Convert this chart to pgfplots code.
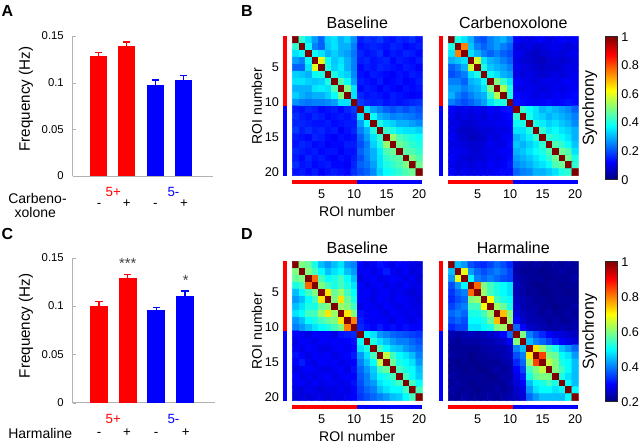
\documentclass[border=0pt]{standalone}
\usepackage{fontspec}
\setmainfont{Liberation Sans}
\usepackage{pgfplots}
\pgfplotsset{compat=1.18}
\usepackage{pgfplotstable}
\pgfplotsset{/pgf/number format/assume math mode=true}
\newcommand\fa{\fontsize{8.5}{10}\selectfont}
\newcommand\fb{\fontsize{10.5}{12}\selectfont}
\newcommand\fc{\fontsize{12}{14}\selectfont}
\newcommand\fd{\fontsize{9.5}{11}\selectfont}
\newcommand\fe{\fontsize{10}{12}\selectfont}
\newcommand\ff{\fontsize{11.4}{13}\selectfont}

% Baseline (panel B)
\pgfplotstableread[header=false,row sep=\\]{
1\\0.42\\0.35\\0.28\\0.22\\0.33\\0.35\\0.30\\0.33\\0.27\\0.15\\0.17\\0.16\\0.18\\0.15\\0.14\\0.16\\0.15\\0.17\\0.14\\
0.42\\1\\0.38\\0.25\\0.22\\0.32\\0.35\\0.30\\0.30\\0.25\\0.14\\0.15\\0.16\\0.15\\0.14\\0.16\\0.15\\0.13\\0.14\\0.15\\
0.35\\0.38\\1\\0.38\\0.35\\0.30\\0.33\\0.30\\0.28\\0.24\\0.16\\0.14\\0.15\\0.17\\0.13\\0.15\\0.14\\0.16\\0.15\\0.13\\
0.28\\0.25\\0.38\\1\\0.60\\0.38\\0.32\\0.35\\0.30\\0.25\\0.15\\0.16\\0.14\\0.15\\0.16\\0.13\\0.15\\0.14\\0.13\\0.15\\
0.22\\0.22\\0.35\\0.60\\1\\0.40\\0.33\\0.36\\0.30\\0.25\\0.13\\0.15\\0.14\\0.16\\0.15\\0.14\\0.13\\0.15\\0.14\\0.12\\
0.33\\0.32\\0.30\\0.38\\0.40\\1\\0.40\\0.35\\0.33\\0.26\\0.14\\0.13\\0.15\\0.14\\0.13\\0.12\\0.14\\0.13\\0.15\\0.14\\
0.35\\0.35\\0.33\\0.32\\0.33\\0.40\\1\\0.45\\0.38\\0.28\\0.15\\0.14\\0.13\\0.15\\0.12\\0.13\\0.14\\0.12\\0.13\\0.15\\
0.30\\0.30\\0.30\\0.35\\0.36\\0.35\\0.45\\1\\0.50\\0.35\\0.13\\0.15\\0.14\\0.12\\0.14\\0.13\\0.12\\0.14\\0.13\\0.14\\
0.33\\0.30\\0.28\\0.30\\0.30\\0.33\\0.38\\0.50\\1\\0.35\\0.16\\0.14\\0.15\\0.14\\0.13\\0.15\\0.14\\0.13\\0.12\\0.13\\
0.27\\0.25\\0.24\\0.25\\0.25\\0.26\\0.28\\0.35\\0.35\\1\\0.18\\0.16\\0.15\\0.16\\0.14\\0.15\\0.14\\0.15\\0.16\\0.17\\
0.15\\0.14\\0.16\\0.15\\0.13\\0.14\\0.15\\0.13\\0.16\\0.18\\1\\0.35\\0.28\\0.25\\0.22\\0.20\\0.22\\0.20\\0.22\\0.20\\
0.17\\0.15\\0.14\\0.16\\0.15\\0.13\\0.14\\0.15\\0.14\\0.16\\0.35\\1\\0.38\\0.30\\0.28\\0.25\\0.26\\0.25\\0.24\\0.22\\
0.16\\0.16\\0.15\\0.14\\0.14\\0.15\\0.13\\0.14\\0.15\\0.15\\0.28\\0.38\\1\\0.40\\0.35\\0.33\\0.30\\0.30\\0.28\\0.26\\
0.18\\0.15\\0.17\\0.15\\0.16\\0.14\\0.15\\0.12\\0.14\\0.16\\0.25\\0.30\\0.40\\1\\0.42\\0.40\\0.36\\0.35\\0.35\\0.33\\
0.15\\0.14\\0.13\\0.16\\0.15\\0.13\\0.12\\0.14\\0.13\\0.14\\0.22\\0.28\\0.35\\0.42\\1\\0.52\\0.45\\0.42\\0.40\\0.38\\
0.14\\0.16\\0.15\\0.13\\0.14\\0.12\\0.13\\0.13\\0.15\\0.15\\0.20\\0.25\\0.33\\0.40\\0.52\\1\\0.48\\0.45\\0.42\\0.40\\
0.16\\0.15\\0.14\\0.15\\0.13\\0.14\\0.14\\0.12\\0.14\\0.14\\0.22\\0.26\\0.30\\0.36\\0.45\\0.48\\1\\0.46\\0.45\\0.42\\
0.15\\0.13\\0.16\\0.14\\0.15\\0.13\\0.12\\0.14\\0.13\\0.15\\0.20\\0.25\\0.30\\0.35\\0.42\\0.45\\0.46\\1\\0.50\\0.45\\
0.17\\0.14\\0.15\\0.13\\0.14\\0.15\\0.13\\0.13\\0.12\\0.16\\0.22\\0.24\\0.28\\0.35\\0.40\\0.42\\0.45\\0.50\\1\\0.48\\
0.14\\0.15\\0.13\\0.15\\0.12\\0.14\\0.15\\0.14\\0.13\\0.17\\0.20\\0.22\\0.26\\0.33\\0.38\\0.40\\0.42\\0.45\\0.48\\1\\
}\matBL

% Carbenoxolone (panel B)
\pgfplotstableread[header=false,row sep=\\]{
1\\0.40\\0.35\\0.30\\0.22\\0.20\\0.25\\0.28\\0.30\\0.25\\0.12\\0.11\\0.10\\0.11\\0.12\\0.10\\0.11\\0.12\\0.11\\0.12\\
0.40\\1\\0.75\\0.32\\0.25\\0.22\\0.25\\0.28\\0.25\\0.22\\0.10\\0.09\\0.10\\0.08\\0.09\\0.10\\0.11\\0.10\\0.09\\0.10\\
0.35\\0.75\\1\\0.35\\0.30\\0.25\\0.22\\0.25\\0.22\\0.20\\0.11\\0.10\\0.08\\0.07\\0.08\\0.09\\0.10\\0.09\\0.10\\0.11\\
0.30\\0.32\\0.35\\1\\0.58\\0.35\\0.30\\0.28\\0.25\\0.22\\0.10\\0.09\\0.08\\0.07\\0.06\\0.08\\0.09\\0.08\\0.09\\0.10\\
0.22\\0.25\\0.30\\0.58\\1\\0.40\\0.32\\0.30\\0.28\\0.25\\0.11\\0.10\\0.09\\0.08\\0.07\\0.08\\0.08\\0.09\\0.10\\0.10\\
0.20\\0.22\\0.25\\0.35\\0.40\\1\\0.38\\0.35\\0.30\\0.28\\0.10\\0.09\\0.10\\0.09\\0.08\\0.09\\0.10\\0.09\\0.10\\0.11\\
0.25\\0.25\\0.22\\0.30\\0.32\\0.38\\1\\0.50\\0.42\\0.35\\0.12\\0.11\\0.10\\0.09\\0.10\\0.11\\0.10\\0.11\\0.12\\0.11\\
0.28\\0.28\\0.25\\0.28\\0.30\\0.35\\0.50\\1\\0.55\\0.40\\0.11\\0.10\\0.11\\0.10\\0.09\\0.10\\0.11\\0.10\\0.11\\0.12\\
0.30\\0.25\\0.22\\0.25\\0.28\\0.30\\0.42\\0.55\\1\\0.40\\0.13\\0.12\\0.11\\0.10\\0.11\\0.10\\0.12\\0.11\\0.12\\0.13\\
0.25\\0.22\\0.20\\0.22\\0.25\\0.28\\0.35\\0.40\\0.40\\1\\0.14\\0.13\\0.12\\0.11\\0.12\\0.13\\0.12\\0.13\\0.14\\0.13\\
0.12\\0.10\\0.11\\0.10\\0.11\\0.10\\0.12\\0.11\\0.13\\0.14\\1\\0.42\\0.38\\0.35\\0.30\\0.32\\0.30\\0.28\\0.26\\0.22\\
0.11\\0.09\\0.10\\0.09\\0.10\\0.09\\0.11\\0.10\\0.12\\0.13\\0.42\\1\\0.40\\0.35\\0.33\\0.30\\0.32\\0.30\\0.28\\0.25\\
0.10\\0.10\\0.08\\0.08\\0.09\\0.10\\0.10\\0.11\\0.11\\0.12\\0.38\\0.40\\1\\0.40\\0.36\\0.33\\0.35\\0.32\\0.30\\0.26\\
0.11\\0.08\\0.07\\0.07\\0.08\\0.09\\0.09\\0.10\\0.10\\0.11\\0.35\\0.35\\0.40\\1\\0.42\\0.36\\0.38\\0.35\\0.33\\0.30\\
0.12\\0.09\\0.08\\0.06\\0.07\\0.08\\0.10\\0.09\\0.11\\0.12\\0.30\\0.33\\0.36\\0.42\\1\\0.42\\0.40\\0.38\\0.35\\0.30\\
0.10\\0.10\\0.09\\0.08\\0.08\\0.09\\0.11\\0.10\\0.10\\0.13\\0.32\\0.30\\0.33\\0.36\\0.42\\1\\0.45\\0.42\\0.38\\0.32\\
0.11\\0.11\\0.10\\0.09\\0.08\\0.10\\0.10\\0.11\\0.12\\0.12\\0.30\\0.32\\0.35\\0.38\\0.40\\0.45\\1\\0.48\\0.45\\0.35\\
0.12\\0.10\\0.09\\0.08\\0.09\\0.09\\0.11\\0.10\\0.11\\0.13\\0.28\\0.30\\0.32\\0.35\\0.38\\0.42\\0.48\\1\\0.48\\0.40\\
0.11\\0.09\\0.10\\0.09\\0.10\\0.10\\0.12\\0.11\\0.12\\0.14\\0.26\\0.28\\0.30\\0.33\\0.35\\0.38\\0.45\\0.48\\1\\0.42\\
0.12\\0.10\\0.11\\0.10\\0.10\\0.11\\0.11\\0.12\\0.13\\0.13\\0.22\\0.25\\0.26\\0.30\\0.30\\0.32\\0.35\\0.40\\0.42\\1\\
}\matBR

% Baseline (panel D)
\pgfplotstableread[header=false,row sep=\\]{
1\\0.60\\0.58\\0.52\\0.45\\0.42\\0.45\\0.48\\0.42\\0.40\\0.30\\0.28\\0.29\\0.31\\0.30\\0.28\\0.30\\0.29\\0.28\\0.27\\
0.60\\1\\0.60\\0.55\\0.50\\0.45\\0.48\\0.50\\0.45\\0.42\\0.29\\0.30\\0.28\\0.30\\0.32\\0.29\\0.28\\0.30\\0.27\\0.28\\
0.58\\0.60\\1\\0.82\\0.55\\0.50\\0.52\\0.55\\0.50\\0.45\\0.28\\0.29\\0.30\\0.28\\0.29\\0.30\\0.29\\0.28\\0.29\\0.27\\
0.52\\0.55\\0.82\\1\\0.60\\0.55\\0.52\\0.55\\0.52\\0.48\\0.30\\0.28\\0.29\\0.30\\0.28\\0.29\\0.28\\0.30\\0.28\\0.28\\
0.45\\0.50\\0.55\\0.60\\1\\0.72\\0.58\\0.62\\0.55\\0.50\\0.29\\0.30\\0.28\\0.29\\0.30\\0.28\\0.29\\0.28\\0.27\\0.28\\
0.42\\0.45\\0.50\\0.55\\0.72\\1\\0.60\\0.72\\0.58\\0.52\\0.30\\0.29\\0.28\\0.30\\0.29\\0.28\\0.30\\0.29\\0.28\\0.27\\
0.45\\0.48\\0.52\\0.52\\0.58\\0.60\\1\\0.62\\0.60\\0.55\\0.28\\0.30\\0.29\\0.28\\0.30\\0.29\\0.28\\0.29\\0.28\\0.28\\
0.48\\0.50\\0.55\\0.55\\0.62\\0.72\\0.62\\1\\0.72\\0.60\\0.31\\0.29\\0.30\\0.29\\0.28\\0.30\\0.29\\0.28\\0.29\\0.28\\
0.42\\0.45\\0.50\\0.52\\0.55\\0.58\\0.60\\0.72\\1\\0.80\\0.32\\0.30\\0.29\\0.30\\0.29\\0.28\\0.30\\0.29\\0.28\\0.29\\
0.40\\0.42\\0.45\\0.48\\0.50\\0.52\\0.55\\0.60\\0.80\\1\\0.33\\0.31\\0.30\\0.32\\0.30\\0.31\\0.30\\0.31\\0.30\\0.30\\
0.30\\0.29\\0.28\\0.30\\0.29\\0.30\\0.28\\0.31\\0.32\\0.33\\1\\0.50\\0.48\\0.42\\0.40\\0.38\\0.37\\0.36\\0.35\\0.34\\
0.28\\0.30\\0.29\\0.28\\0.30\\0.29\\0.30\\0.29\\0.30\\0.31\\0.50\\1\\0.52\\0.48\\0.45\\0.42\\0.40\\0.40\\0.38\\0.36\\
0.29\\0.28\\0.30\\0.29\\0.28\\0.28\\0.29\\0.30\\0.29\\0.30\\0.48\\0.52\\1\\0.55\\0.50\\0.46\\0.45\\0.42\\0.40\\0.38\\
0.31\\0.30\\0.28\\0.30\\0.29\\0.30\\0.28\\0.29\\0.30\\0.32\\0.42\\0.48\\0.55\\1\\0.65\\0.55\\0.50\\0.48\\0.45\\0.40\\
0.30\\0.32\\0.29\\0.28\\0.30\\0.29\\0.30\\0.28\\0.29\\0.30\\0.40\\0.45\\0.50\\0.65\\1\\0.58\\0.52\\0.50\\0.48\\0.42\\
0.28\\0.29\\0.30\\0.29\\0.28\\0.28\\0.29\\0.30\\0.28\\0.31\\0.38\\0.42\\0.46\\0.55\\0.58\\1\\0.55\\0.52\\0.50\\0.45\\
0.30\\0.28\\0.29\\0.28\\0.29\\0.30\\0.28\\0.29\\0.30\\0.30\\0.37\\0.40\\0.45\\0.50\\0.52\\0.55\\1\\0.55\\0.50\\0.46\\
0.29\\0.30\\0.28\\0.30\\0.28\\0.29\\0.29\\0.28\\0.29\\0.31\\0.36\\0.40\\0.42\\0.48\\0.50\\0.52\\0.55\\1\\0.55\\0.50\\
0.28\\0.27\\0.29\\0.28\\0.27\\0.28\\0.28\\0.29\\0.28\\0.30\\0.35\\0.38\\0.40\\0.45\\0.48\\0.50\\0.50\\0.55\\1\\0.55\\
0.27\\0.28\\0.27\\0.28\\0.28\\0.27\\0.28\\0.28\\0.29\\0.30\\0.34\\0.36\\0.38\\0.40\\0.42\\0.45\\0.46\\0.50\\0.55\\1\\
}\matDL

% Harmaline (panel D)
\pgfplotstableread[header=false,row sep=\\]{
1\\0.45\\0.42\\0.36\\0.34\\0.33\\0.35\\0.38\\0.36\\0.33\\0.24\\0.23\\0.22\\0.23\\0.22\\0.22\\0.23\\0.22\\0.23\\0.22\\
0.45\\1\\0.68\\0.42\\0.38\\0.36\\0.38\\0.40\\0.38\\0.35\\0.23\\0.22\\0.22\\0.22\\0.21\\0.22\\0.22\\0.23\\0.22\\0.22\\
0.42\\0.68\\1\\0.50\\0.40\\0.38\\0.40\\0.38\\0.36\\0.35\\0.24\\0.23\\0.22\\0.22\\0.22\\0.21\\0.22\\0.22\\0.22\\0.23\\
0.36\\0.42\\0.50\\1\\0.82\\0.60\\0.55\\0.52\\0.50\\0.48\\0.25\\0.23\\0.22\\0.21\\0.21\\0.22\\0.22\\0.21\\0.22\\0.22\\
0.34\\0.38\\0.40\\0.82\\1\\0.62\\0.55\\0.52\\0.50\\0.48\\0.24\\0.23\\0.22\\0.22\\0.21\\0.21\\0.22\\0.22\\0.21\\0.22\\
0.33\\0.36\\0.38\\0.60\\0.62\\1\\0.70\\0.55\\0.52\\0.50\\0.25\\0.24\\0.23\\0.22\\0.22\\0.21\\0.22\\0.22\\0.22\\0.22\\
0.35\\0.38\\0.40\\0.55\\0.55\\0.70\\1\\0.62\\0.58\\0.52\\0.26\\0.24\\0.23\\0.23\\0.22\\0.22\\0.21\\0.22\\0.22\\0.23\\
0.38\\0.40\\0.38\\0.52\\0.52\\0.55\\0.62\\1\\0.75\\0.60\\0.27\\0.25\\0.24\\0.23\\0.22\\0.23\\0.22\\0.22\\0.23\\0.22\\
0.36\\0.38\\0.36\\0.50\\0.50\\0.52\\0.58\\0.75\\1\\0.62\\0.30\\0.26\\0.24\\0.24\\0.23\\0.22\\0.23\\0.22\\0.22\\0.23\\
0.33\\0.35\\0.35\\0.48\\0.48\\0.50\\0.52\\0.60\\0.62\\1\\0.38\\0.30\\0.26\\0.25\\0.24\\0.23\\0.23\\0.24\\0.23\\0.24\\
0.24\\0.23\\0.24\\0.25\\0.24\\0.25\\0.26\\0.27\\0.30\\0.38\\1\\0.60\\0.40\\0.36\\0.33\\0.30\\0.28\\0.27\\0.26\\0.25\\
0.23\\0.22\\0.23\\0.23\\0.23\\0.24\\0.24\\0.25\\0.26\\0.30\\0.60\\1\\0.45\\0.40\\0.38\\0.35\\0.32\\0.30\\0.28\\0.27\\
0.22\\0.22\\0.22\\0.22\\0.22\\0.23\\0.23\\0.24\\0.24\\0.26\\0.40\\0.45\\1\\0.72\\0.62\\0.55\\0.52\\0.45\\0.42\\0.38\\
0.23\\0.22\\0.22\\0.21\\0.22\\0.22\\0.23\\0.23\\0.24\\0.25\\0.36\\0.40\\0.72\\1\\0.85\\0.60\\0.58\\0.50\\0.48\\0.42\\
0.22\\0.21\\0.22\\0.21\\0.21\\0.22\\0.22\\0.22\\0.23\\0.24\\0.33\\0.38\\0.62\\0.85\\1\\0.65\\0.60\\0.52\\0.50\\0.45\\
0.22\\0.22\\0.21\\0.22\\0.21\\0.21\\0.22\\0.23\\0.22\\0.23\\0.30\\0.35\\0.55\\0.60\\0.65\\1\\0.60\\0.55\\0.50\\0.45\\
0.23\\0.22\\0.22\\0.22\\0.22\\0.22\\0.21\\0.22\\0.23\\0.23\\0.28\\0.32\\0.52\\0.58\\0.60\\0.60\\1\\0.52\\0.48\\0.45\\
0.22\\0.23\\0.22\\0.21\\0.22\\0.22\\0.22\\0.22\\0.22\\0.24\\0.27\\0.30\\0.45\\0.50\\0.52\\0.55\\0.52\\1\\0.50\\0.45\\
0.23\\0.22\\0.22\\0.22\\0.21\\0.22\\0.22\\0.23\\0.22\\0.23\\0.26\\0.28\\0.42\\0.48\\0.50\\0.50\\0.48\\0.50\\1\\0.50\\
0.22\\0.22\\0.23\\0.22\\0.22\\0.22\\0.23\\0.22\\0.23\\0.24\\0.25\\0.27\\0.38\\0.42\\0.45\\0.45\\0.45\\0.45\\0.50\\1\\
}\matDR

\pgfplotsset{
  barax/.style={
    scale only axis, axis x line*=bottom, axis y line*=left,
    axis line style={draw=gray!60},
    xmin=0.08, xmax=5.05, ymin=0, ymax=0.15,
    xtick=\empty, ytick={0,0.05,0.1,0.15}, yticklabels={0,0.05,0.1,0.15},
    tick align=inside, major tick length=2.5pt, tick style={gray!60},
    yticklabel style={font=\fa, anchor=east, inner sep=0pt, xshift=-6.5pt},
    ylabel={Frequency (Hz)}, clip=false,
  },
  errbar/.style={ybar, bar shift=0pt, bar width=#1, draw=none},
  matax/.style={
    scale only axis, width=97.5pt, height=104.55pt,
    xmin=0.5, xmax=20.5, ymin=0.5, ymax=20.5, enlargelimits=false,
    axis line style={draw=none}, colormap/jet,
    xtick={5,10,15,20}, xticklabels={5,10,15,20},
    major tick length=0pt, clip=false,
    xticklabel style={font=\fd, anchor=base, inner sep=0pt, yshift=-17.2pt},
    yticklabel style={font=\fd, anchor=east, inner sep=0pt, xshift=-9.75pt},
    every axis title/.style={at={(axis description cs:0.5,1)}, anchor=base, yshift=6pt, font=\fc},
    every axis x label/.style={at={(axis description cs:0.5,-0.294)}, anchor=base, font=\fb},
    every axis y label/.style={at={(axis description cs:-0.235,0.5)}, rotate=90, anchor=base, font=\fb},
  },
  cbar/.style 2 args={
    colorbar,
    colorbar style={
      at={(parent axis.north east)}, anchor=north west, xshift=11.85pt, yshift=-0.3pt,
      scale only axis, width=8.5pt, height=#2,
      ytick={#1}, yticklabels={#1}, major tick length=0pt,
      axis line style={draw=black!85, line width=0.4pt},
      yticklabel style={font=\fd, anchor=west, inner sep=0pt, xshift=3.2pt},
      ylabel={Synchrony},
      every axis y label/.style={at={(axis description cs:-0.7,0.5)}, rotate=90, anchor=south, inner sep=0pt, font=\fc},
    },
  },
}

\newcommand\sidebars{%
  \addplot[red, line width=3pt, mark=none, forget plot] coordinates {(-0.6,20.5) (-0.6,10.5)};
  \addplot[blue, line width=3pt, mark=none, forget plot] coordinates {(-0.6,10.5) (-0.6,0.5)};
  \addplot[red, line width=3pt, mark=none, forget plot] coordinates {(0.5,-0.35) (10.5,-0.35)};
  \addplot[blue, line width=3pt, mark=none, forget plot] coordinates {(10.5,-0.35) (20.5,-0.35)};
}

\begin{document}
\begin{tikzpicture}[x=0.75pt,y=0.75pt]
\useasboundingbox (0,0) rectangle (640,446);

% ---------- Panel A ----------
\begin{axis}[barax, at={(54.525pt,202.5pt)}, anchor=south west, width=105.2pt, height=105pt,
  every axis y label/.style={at={(axis description cs:-0.334,0.55)}, rotate=90, anchor=center, font=\ff}]
\addplot[errbar=0.6, fill=red, error bars/.cd, y dir=plus, y explicit,
  error bar style={red, line width=0.9pt}, error mark options={rotate=90, red, mark size=2.7pt, line width=0.9pt}]
  coordinates {(1,0.1286) +- (0,0.0039)};
\addplot[errbar=0.6, fill=red, error bars/.cd, y dir=plus, y explicit,
  error bar style={red, line width=0.9pt}, error mark options={rotate=90, red, mark size=2.7pt, line width=0.9pt}]
  coordinates {(2,0.1393) +- (0,0.0043)};
\addplot[errbar=0.6, fill=blue, error bars/.cd, y dir=plus, y explicit,
  error bar style={blue, line width=0.9pt}, error mark options={rotate=90, blue, mark size=2.7pt, line width=0.9pt}]
  coordinates {(3,0.0979) +- (0,0.0050)};
\addplot[errbar=0.6, fill=blue, error bars/.cd, y dir=plus, y explicit,
  error bar style={blue, line width=0.9pt}, error mark options={rotate=90, blue, mark size=2.7pt, line width=0.9pt}]
  coordinates {(4,0.1029) +- (0,0.0046)};
\end{axis}
\node[anchor=base, red, font=\fe] at (113.3,249.3) {5+};
\node[anchor=base, blue, font=\fe] at (173.5,249.3) {5-};
\node[anchor=base, font=\fb] at (37.5,242.7) {Carbeno-};
\node[anchor=base, font=\fb] at (35.3,228.7) {xolone};
\node[anchor=base, font=\fe] at (99,238) {-};
\node[anchor=base, font=\fe] at (126.7,238) {+};
\node[anchor=base, font=\fe] at (155.3,238) {-};
\node[anchor=base, font=\fe] at (184,238) {+};

% ---------- Panel C ----------
\begin{axis}[barax, at={(54.525pt,32.475pt)}, anchor=south west, width=106.7pt, height=108.75pt,
  every axis y label/.style={at={(axis description cs:-0.328,0.53)}, rotate=90, anchor=center, font=\ff}]
\addplot[errbar=0.62, fill=red, error bars/.cd, y dir=plus, y explicit,
  error bar style={red, line width=0.9pt}, error mark options={rotate=90, red, mark size=2.7pt, line width=0.9pt}]
  coordinates {(1,0.1000) +- (0,0.0045)};
\addplot[errbar=0.62, fill=red, error bars/.cd, y dir=plus, y explicit,
  error bar style={red, line width=0.9pt}, error mark options={rotate=90, red, mark size=2.7pt, line width=0.9pt}]
  coordinates {(2,0.1286) +- (0,0.0041)};
\addplot[errbar=0.62, fill=blue, error bars/.cd, y dir=plus, y explicit,
  error bar style={blue, line width=0.9pt}, error mark options={rotate=90, blue, mark size=2.7pt, line width=0.9pt}]
  coordinates {(3,0.0959) +- (0,0.0028)};
\addplot[errbar=0.62, fill=blue, error bars/.cd, y dir=plus, y explicit,
  error bar style={blue, line width=0.9pt}, error mark options={rotate=90, blue, mark size=2.7pt, line width=0.9pt}]
  coordinates {(4,0.1103) +- (0,0.0052)};
\end{axis}
\node[anchor=base, red, font=\fe] at (113.3,22.7) {5+};
\node[anchor=base, blue, font=\fe] at (173.5,22.7) {5-};
\node[anchor=base, font=\fb] at (40.2,7.7) {Harmaline};
\node[anchor=base, font=\fe] at (99,9.4) {-};
\node[anchor=base, font=\fe] at (127,9.4) {+};
\node[anchor=base, font=\fe] at (156,9.4) {-};
\node[anchor=base, font=\fe] at (185.7,9.4) {+};
\node[anchor=base, font=\fontsize{11}{13}\selectfont, text=black!75] at (127.7,177.3) {***};
\node[anchor=base, font=\fontsize{11}{13}\selectfont, text=black!75] at (185.7,160) {*};

% ---------- Panel B ----------
\begin{axis}[matax, at={(219.225pt,202.725pt)}, anchor=south west,
  point meta min=0, point meta max=1,
  ytick={1,6,11,16}, yticklabels={20,15,10,5},
  title={Baseline}, xlabel={ROI number}, ylabel={ROI number}]
\addplot[matrix plot*, mesh/cols=20, point meta=explicit]
  table[x index=0, y index=0, meta index=0,
        x expr={\coordindex-20*floor((\coordindex+0.5)/20)+1},
        y expr={20-floor((\coordindex+0.5)/20)}] {\matBL};
\sidebars
\end{axis}
\begin{axis}[matax, at={(336.225pt,202.725pt)}, anchor=south west,
  point meta min=0, point meta max=1, ytick=\empty,
  title={Carbenoxolone}, cbar={0,0.2,0.4,0.6,0.8,1}{107.25pt}]
\addplot[matrix plot*, mesh/cols=20, point meta=explicit]
  table[x index=0, y index=0, meta index=0,
        x expr={\coordindex-20*floor((\coordindex+0.5)/20)+1},
        y expr={20-floor((\coordindex+0.5)/20)}] {\matBR};
\sidebars
\end{axis}

% ---------- Panel D ----------
\begin{axis}[matax, at={(219.225pt,33.975pt)}, anchor=south west,
  point meta min=0.2, point meta max=1,
  ytick={1,6,11,16}, yticklabels={20,15,10,5},
  every axis title/.append style={yshift=-0.5pt},
  title={Baseline}, xlabel={ROI number}, ylabel={ROI number}]
\addplot[matrix plot*, mesh/cols=20, point meta=explicit]
  table[x index=0, y index=0, meta index=0,
        x expr={\coordindex-20*floor((\coordindex+0.5)/20)+1},
        y expr={20-floor((\coordindex+0.5)/20)}] {\matDL};
\sidebars
\end{axis}
\begin{axis}[matax, at={(336.225pt,33.975pt)}, anchor=south west,
  point meta min=0.2, point meta max=1, ytick=\empty,
  every axis title/.append style={yshift=-0.5pt},
  title={Harmaline}, cbar={0.2,0.4,0.6,0.8,1}{105pt}]
\addplot[matrix plot*, mesh/cols=20, point meta=explicit]
  table[x index=0, y index=0, meta index=0,
        x expr={\coordindex-20*floor((\coordindex+0.5)/20)+1},
        y expr={20-floor((\coordindex+0.5)/20)}] {\matDR};
\sidebars
\end{axis}

% ---------- Panel letters ----------
\node[font=\fontsize{12}{14}\selectfont\bfseries] at (7.5,435.2) {A};
\node[font=\fontsize{12}{14}\selectfont\bfseries] at (247,435.2) {B};
\node[font=\fontsize{12}{14}\selectfont\bfseries] at (7.5,212) {C};
\node[font=\fontsize{12}{14}\selectfont\bfseries] at (247,212) {D};
\end{tikzpicture}
\end{document}
